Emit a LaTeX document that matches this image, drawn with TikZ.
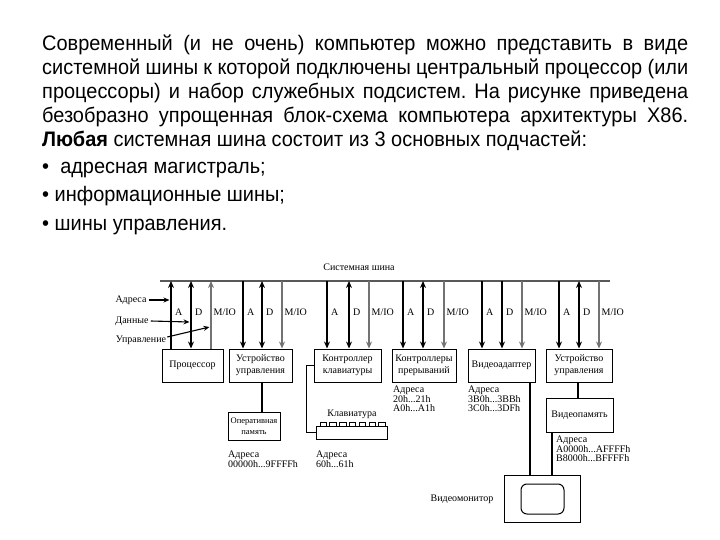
\documentclass[tikz,border=0pt]{standalone}
\usepackage{fontspec}
\setmainfont[FakeStretch=0.95]{Liberation Sans}
\newfontfamily\dfont{Liberation Serif}
\usetikzlibrary{arrows.meta}
\begin{document}
\frenchspacing
\begin{tikzpicture}[x=1pt,y=-1pt,
  ptext/.style={anchor=base west, inner sep=0pt, font=\fontsize{21}{24}\selectfont},
  box/.style={draw, line width=1pt, inner sep=1pt, align=center, font=\dfont\fontsize{10}{12}\selectfont},
  dlabel/.style={inner sep=0pt, font=\dfont\fontsize{10}{12}\selectfont},
  addr/.style={anchor=north west, inner sep=0pt, align=left, font=\dfont\fontsize{10}{9.5}\selectfont},
  tipA/.tip={Stealth[length=7pt,width=6pt]},
  aline/.style={line width=1.3pt, black},
  dline/.style={line width=2pt, black},
  mline/.style={line width=1.1pt, black!55},
  busline/.style={line width=1.6pt, black!65},
  conn/.style={line width=1.1pt, black},
  larrow/.style={line width=1.1pt, black, -{Stealth[length=6pt,width=5pt]}}
]
\useasboundingbox (0,0) rectangle (720,540);

% paragraph
\node[ptext] (l1) at (42,51) {\makebox[646pt][s]{Современный (и не очень) компьютер можно представить в виде}};
\node[ptext] (l2) at (42,75) {\makebox[646pt][s]{системной шины к которой подключены центральный процессор (или}};
\node[ptext] (l3) at (42,99) {\makebox[646pt][s]{процессоры) и набор служебных подсистем. На рисунке приведена}};
\node[ptext] (l4) at (42,123) {\makebox[646pt][s]{безобразно упрощенная блок-схема компьютера архитектуры X86.}};
\node[ptext] (l5) at (42,147) {\textbf{Любая} системная шина состоит из 3 основных подчастей:};
\node[ptext] (l6) at (42,174) {•\ \ адресная магистраль;};
\node[ptext] (l7) at (42,202) {• информационные шины;};
\node[ptext] (l8) at (42,230) {• шины управления.};

% bus
\coordinate (busL) at (160,281);
\coordinate (busR) at (610,281);
\draw[busline] (busL) -- (busR);
\node[dlabel] (busname) at (359,267) {Системная шина};

% boxes
\node[box, minimum width=61pt, minimum height=33pt] (proc) at (192.5,365.5) {Процессор};
\node[box, minimum width=63pt, minimum height=33pt] (cu1) at (260.5,365.5) {Устройство\\управления};
\node[box, minimum width=67pt, minimum height=33pt] (kc) at (347.5,365.5) {Контроллер\\клавиатуры};
\node[box, minimum width=64pt, minimum height=33pt] (ic) at (424,365.5) {Контроллеры\\прерываний};
\node[box, minimum width=67pt, minimum height=33pt] (va) at (501.5,365.5) {Видеоадаптер};
\node[box, minimum width=66pt, minimum height=33pt] (cu2) at (579,365.5) {Устройство\\управления};
\node[box, minimum width=52pt, minimum height=28pt, font=\dfont\fontsize{8.5}{11}\selectfont] (ram) at (254,426) {Оперативная\\память};
\node[box, minimum width=67pt, minimum height=34pt] (vram) at (579.5,415) {Видеопамять};
\node[draw, line width=1pt, minimum width=76pt, minimum height=47pt, inner sep=0pt] (mon) at (542,498.5) {};
\node[draw, line width=1pt, minimum width=43pt, minimum height=30pt, inner sep=0pt, rounded corners=6pt] (scr) at (542.5,499) {};
\node[draw, line width=1pt, minimum width=71pt, minimum height=13pt, inner sep=0pt] (kbd) at (351.5,432.5) {};
\foreach \i in {0,...,6} {
  \draw[line width=0.9pt] ({320+\i*9.8},422) rectangle ({326.5+\i*9.8},426);
}
\node[dlabel] (kbdname) at (352,414) {Клавиатура};
\node[dlabel] (monname) at (462,499) {Видеомонитор};

% processor lines
\draw[aline,-tipA] (171,0 |- proc.north) -- (171,0 |- busL);
\draw[dline,tipA-tipA] (191,0 |- proc.north) -- (191,0 |- busL);
\draw[mline,-tipA] (211,0 |- proc.north) -- (211,0 |- busL);
% device lines
\foreach \a/\d/\m/\n in {243/262/282/cu1, 327/349/369/kc, 403/423/444/ic, 559/579/599/cu2} {
  \draw[aline,-tipA] (\a,0 |- busL) -- (\a,0 |- \n.north);
  \draw[dline,tipA-tipA] (\d,0 |- busL) -- (\d,0 |- \n.north);
  \draw[mline,-tipA] (\m,0 |- busL) -- (\m,0 |- \n.north);
}
\draw[aline,-tipA] (482,0 |- busL) -- (482,0 |- va.north);
\draw[aline,-tipA] (502,0 |- busL) -- (502,0 |- va.north);
\draw[mline,-tipA] (522,0 |- busL) -- (522,0 |- va.north);

% A / D / M/IO labels
\foreach \a/\d/\m in {171/191/211, 243/262/282, 327/349/369, 403/423/444, 482/502/522, 559/579/599} {
  \node[dlabel, anchor=west] at (\a+4,312) {A};
  \node[dlabel, anchor=west] at (\d+4,312) {D};
  \node[dlabel, anchor=west] at (\m+2.5,312) {M/IO};
}

% left labels
\node[dlabel] (ladr) at (131,300) {Адреса};
\node[dlabel] (ldat) at (132,321) {Данные};
\node[dlabel] (lupr) at (141,340) {Управление};
\draw[larrow] (ladr.east) ++(2,0) -- (169.5,300);
\draw[larrow] (ldat.east) ++(2,0) -- (189.5,322);
\draw[larrow] (lupr.east) ++(1,-3) -- (209.5,327);

% connections below
\draw[conn] (262,0 |- cu1.south) -- (262,0 |- ram.north);
\draw[conn] (kc.west) -- ++(-7,0) |- (kbd.west);
\draw[conn] (530,0 |- va.south) -- (530,0 |- mon.north);
\draw[conn] (578,0 |- cu2.south) -- (578,0 |- vram.north);
\draw[conn] (552,0 |- vram.south) -- (552,0 |- mon.north);

% addresses
\node[addr] (a1) at (228,451) {Адреса\\00000h...9FFFFh};
\node[addr] (a2) at (316,451) {Адреса\\60h...61h};
\node[addr] (a3) at (393,386) {Адреса\\20h...21h\\A0h...A1h};
\node[addr] (a4) at (468,386) {Адреса\\3B0h...3BBh\\3C0h...3DFh};
\node[addr] (a5) at (556,436) {Адреса\\A0000h...AFFFFh\\B8000h...BFFFFh};
\end{tikzpicture}
\end{document}
